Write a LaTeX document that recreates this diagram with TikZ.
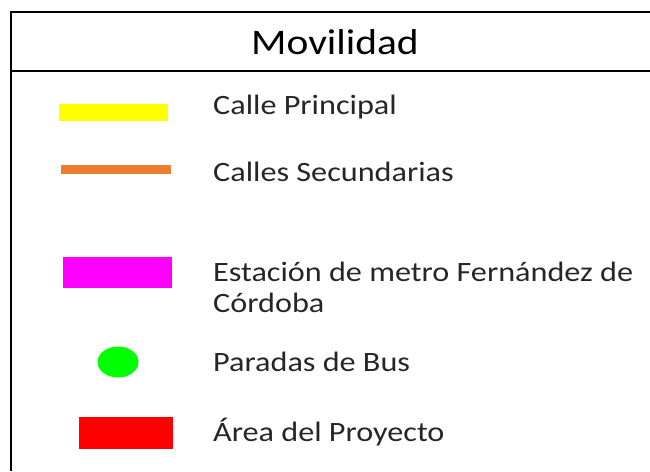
\documentclass[tikz,border=0pt]{standalone}
\usepackage{fontspec}
\setmainfont[FakeStretch=1.15]{Carlito}
\definecolor{callepri}{RGB}{255,255,0}
\definecolor{callesec}{RGB}{237,125,49}
\definecolor{metro}{RGB}{255,0,255}
\definecolor{bus}{RGB}{0,255,0}
\definecolor{proyecto}{RGB}{255,0,0}
\tikzset{
  lbl/.style={anchor=base west, inner sep=0pt, font=\fontsize{28}{30}\selectfont, text=black!85},
  marca/.style={draw=none}
}
\begin{document}
\begin{tikzpicture}[x=1pt, y=-1pt]
\useasboundingbox (0,0) rectangle (650,471);
\draw[line width=2.4pt] (11,471) -- (11,12) -- (650,12);
\draw[line width=2.4pt] (11,71) -- (650,71);
\node[anchor=base, inner sep=0pt, font=\fontsize{36}{38}\selectfont] (titulo) at (335,54) {Movilidad};
\fill[callepri] (59,104) rectangle (168,121);
\node[lbl] (t1) at (213,114) {Calle Principal};
\fill[callesec] (61,165) rectangle (171,174);
\node[lbl] (t2) at (213,181) {Calles Secundarias};
\fill[metro] (63,257) rectangle (172,288);
\node[lbl] (t3) at (213,281) {Estación de metro Fernández de};
\node[lbl] (t3b) at (213,312) {Córdoba};
\fill[bus] (118,362) ellipse (20.5 and 15.5);
\node[lbl] (t4) at (213,371) {Paradas de Bus};
\fill[proyecto] (79,417) rectangle (173,449);
\node[lbl] (t5) at (213,441) {Área del Proyecto};
\end{tikzpicture}
\end{document}
